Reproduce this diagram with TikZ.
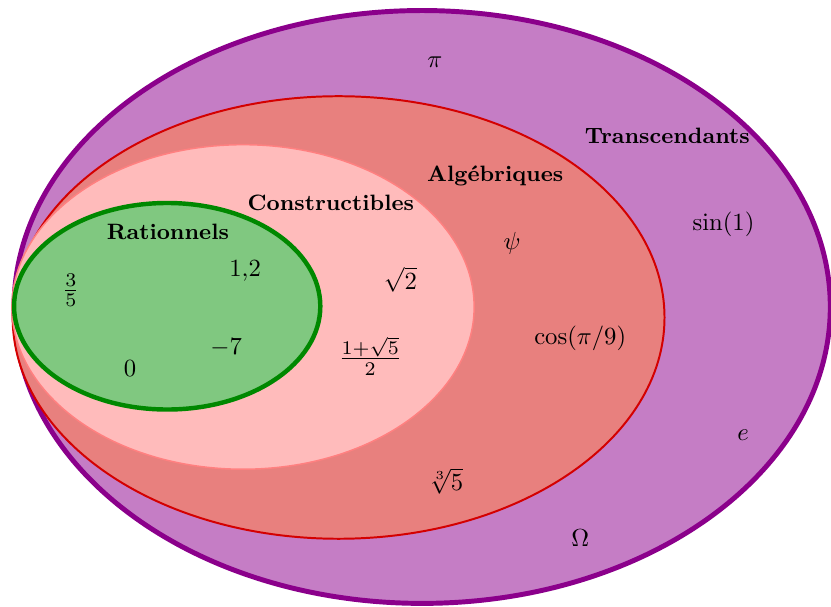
\documentclass[tikz,border=0pt]{standalone}
\usepackage{amsmath}
\usepackage{xcolor}
\usetikzlibrary{positioning,calc}

\definecolor{transfill}{RGB}{197,125,197}
\definecolor{transline}{RGB}{139,0,139}
\definecolor{algfill}{RGB}{232,128,126}
\definecolor{algline}{RGB}{212,0,0}
\definecolor{consfill}{RGB}{255,187,187}
\definecolor{consline}{RGB}{255,128,128}
\definecolor{ratfill}{RGB}{128,200,128}
\definecolor{ratline}{RGB}{0,136,0}

\tikzset{
    setname/.style={font=\small\bfseries},
    elem/.style={inner sep=1pt},
    fracelem/.style={elem,scale=1.12,transform shape}
}

\begin{document}
\begin{tikzpicture}
    \useasboundingbox (0,0) rectangle (11.83,8.64);

    \draw[fill=transfill,draw=transline,line width=2pt] (6.01,4.27) ellipse (5.81 and 4.22);
    \draw[fill=algfill,draw=algline,line width=0.8pt] (4.82,4.12) ellipse (4.64 and 3.15);
    \draw[fill=consfill,draw=consline,line width=0.6pt] (3.46,4.27) ellipse (3.29 and 2.31);
    \draw[fill=ratfill,draw=ratline,line width=1.8pt] (2.38,4.28) ellipse (2.18 and 1.47);

    % Transcendants
    \node[setname] (trans) at (9.50, 6.71) {Transcendants};
    \node[elem] (pi) at (6.19, 7.76) {$\pi$};
    \node[elem] (sin) at (10.30, 5.45) {$\sin(1)$};
    \node[elem] (e) at (10.58, 2.44) {$e$};
    \node[elem] (omega) at (8.26, 0.98) {$\Omega$};

    % Algebriques
    \node[setname] (alg) at (7.05, 6.14) {Algébriques};
    \node[elem] (psi) at (7.29, 5.17) {$\psi$};
    \node[elem] (cos) at (8.26, 3.82) {$\cos(\pi/9)$};
    \node[elem] (cbrt) at (6.35, 1.79) {$\sqrt[3]{5}$};

    % Constructibles
    \node[setname] (cons) at (4.71, 5.75) {Constructibles};
    \node[elem] (sqrt) at (5.70, 4.66) {$\sqrt{2}$};
    \node[fracelem] (gold) at (5.27, 3.57) {$\frac{1+\sqrt{5}}{2}$};

    % Rationnels
    \node[setname] (rat) at (2.39, 5.34) {Rationnels};
    \node[fracelem] (frac) at (1.01, 4.51) {$\frac{3}{5}$};
    \node[elem] (dec) at (3.49, 4.78) {$1{,}2$};
    \node[elem] (neg) at (3.22, 3.69) {$-7$};
    \node[elem] (zero) at (1.85, 3.40) {$0$};
\end{tikzpicture}
\end{document}
